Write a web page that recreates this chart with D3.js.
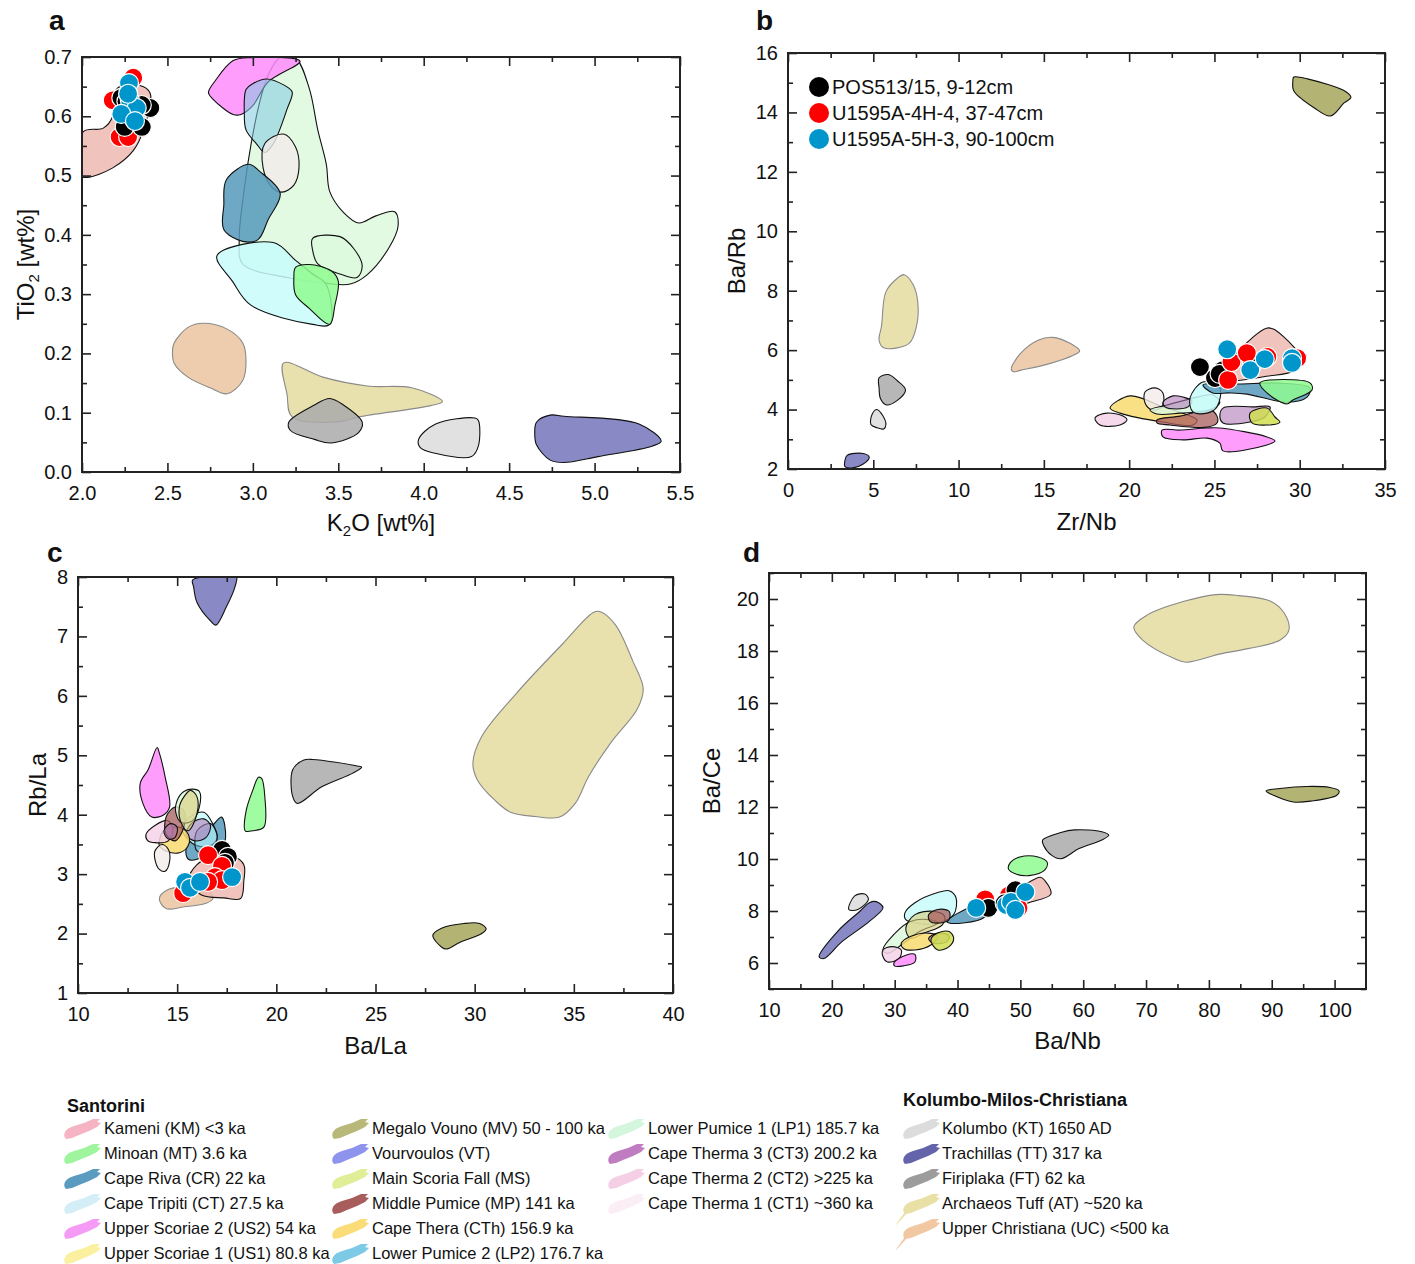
<!DOCTYPE html>
<html>
<head>
<meta charset="utf-8">
<script src="https://cdn.jsdelivr.net/npm/d3@7"></script>
<style>
  body { margin: 0; background: #fff; }
  text { font-family: "Liberation Sans", Arial, sans-serif; fill: #111; }
</style>
</head>
<body>
<svg id="fig" width="1415" height="1264"></svg>
<script>
// ---------- tick values ----------
var ticksAx = [2.0, 2.5, 3.0, 3.5, 4.0, 4.5, 5.0, 5.5];
var minorAx = [2.25, 2.75, 3.25, 3.75, 4.25, 4.75, 5.25];
var ticksAy = [0.0, 0.1, 0.2, 0.3, 0.4, 0.5, 0.6, 0.7];
var minorAy = [0.05, 0.15, 0.25, 0.35, 0.45, 0.55, 0.65];
var ticksBx = [0, 5, 10, 15, 20, 25, 30, 35];
var minorBx = [2.5, 7.5, 12.5, 17.5, 22.5, 27.5, 32.5];
var ticksBy = [2, 4, 6, 8, 10, 12, 14, 16];
var minorBy = [3, 5, 7, 9, 11, 13, 15];
var ticksCx = [10, 15, 20, 25, 30, 35, 40];
var minorCx = [12.5, 17.5, 22.5, 27.5, 32.5, 37.5];
var ticksCy = [1, 2, 3, 4, 5, 6, 7, 8];
var minorCy = [1.5, 2.5, 3.5, 4.5, 5.5, 6.5, 7.5];
var ticksDx = [10, 20, 30, 40, 50, 60, 70, 80, 90, 100];
var minorDx = [15, 25, 35, 45, 55, 65, 75, 85, 95];
var ticksDy = [6, 8, 10, 12, 14, 16, 18, 20];
var minorDy = [5, 7, 9, 11, 13, 15, 17, 19, 21];

// ---------- reference fields (unit code, outline points) ----------
var fieldsA = [
  ["LP1", [[3.159,0.699],[3.25,0.698],[3.33,0.647],[3.38,0.577],[3.43,0.519],[3.45,0.473],[3.53,0.438],[3.62,0.42],[3.72,0.432],[3.83,0.439],[3.85,0.415],[3.80,0.38],[3.67,0.333],[3.57,0.317],[3.41,0.319],[3.20,0.328],[2.94,0.351],[2.92,0.392],[2.95,0.478],[2.99,0.554],[3.04,0.624],[3.09,0.67]]],
  ["US2", [[2.74,0.64],[2.78,0.66],[2.885,0.694],[2.99,0.699],[3.276,0.693],[3.09,0.658],[3.0,0.618],[2.93,0.603],[2.885,0.603],[2.766,0.629]]],
  ["LP2", [[2.96,0.645],[3.0,0.655],[3.08,0.663],[3.18,0.653],[3.23,0.641],[3.20,0.612],[3.12,0.554],[3.07,0.539],[3.02,0.554],[2.96,0.577],[2.95,0.606]]],
  ["CT1", [[3.07,0.554],[3.18,0.570],[3.25,0.548],[3.27,0.513],[3.24,0.484],[3.17,0.472],[3.11,0.481],[3.06,0.513]]],
  ["CR",  [[2.845,0.493],[2.976,0.519],[3.04,0.507],[3.16,0.470],[3.09,0.426],[3.03,0.392],[2.94,0.389],[2.83,0.409],[2.83,0.45]]],
  ["CT",  [[2.79,0.365],[3.12,0.387],[3.25,0.357],[3.35,0.334],[3.43,0.316],[3.45,0.249],[3.35,0.249],[2.99,0.281],[2.88,0.322]]],
  ["LP1", [[3.35,0.394],[3.51,0.397],[3.59,0.377],[3.64,0.348],[3.61,0.328],[3.51,0.334],[3.38,0.351],[3.35,0.374]]],
  ["MT",  [[3.25,0.345],[3.33,0.35],[3.46,0.339],[3.50,0.322],[3.48,0.281],[3.45,0.249],[3.33,0.276],[3.25,0.299],[3.24,0.328]]],
  ["KM",  [[2.008,0.574],[2.125,0.580],[2.18,0.60],[2.19,0.64],[2.24,0.653],[2.36,0.65],[2.40,0.638],[2.36,0.577],[2.30,0.542],[2.18,0.513],[2.03,0.497],[1.99,0.50]]],
  ["UC",  [[2.54,0.218],[2.62,0.244],[2.71,0.251],[2.85,0.241],[2.94,0.218],[2.96,0.189],[2.94,0.154],[2.85,0.132],[2.75,0.142],[2.62,0.160],[2.54,0.183],[2.53,0.206]]],
  ["AT",  [[3.18,0.184],[3.41,0.160],[3.67,0.145],[3.93,0.142],[4.11,0.119],[4.04,0.112],[3.62,0.093],[3.51,0.085],[3.23,0.093],[3.20,0.131]]],
  ["FT",  [[3.21,0.084],[3.36,0.113],[3.45,0.124],[3.53,0.113],[3.64,0.084],[3.62,0.067],[3.46,0.049],[3.36,0.055],[3.22,0.070]]],
  ["KT",  [[3.97,0.055],[4.07,0.081],[4.30,0.091],[4.32,0.087],[4.32,0.044],[4.28,0.026],[4.06,0.032],[3.98,0.041]]],
  ["TT",  [[4.66,0.084],[4.74,0.096],[4.82,0.094],[5.26,0.081],[5.39,0.052],[5.34,0.044],[5.02,0.026],[4.82,0.016],[4.74,0.020],[4.66,0.046],[4.65,0.064]]]
];

var fieldsB = [
  ["MV",  [[29.6,15.07],[29.65,15.19],[30.45,15.13],[32.73,14.69],[33.0,14.5],[32.6,14.32],[31.8,13.88],[30.86,14.15],[29.65,14.73]]],
  ["AT",  [[5.34,6.34],[5.48,6.80],[5.74,7.96],[6.41,8.42],[6.81,8.54],[7.34,8.2],[7.61,7.61],[7.53,6.8],[7.08,6.22],[5.61,6.08]]],
  ["UC",  [[13.09,5.36],[13.62,5.88],[14.69,6.34],[15.5,6.43],[16.56,6.22],[17.1,5.97],[16.7,5.82],[15.23,5.53],[13.62,5.32],[13.22,5.27]]],
  ["FT",  [[5.34,5.07],[5.88,5.18],[6.41,4.97],[6.89,4.66],[6.41,4.31],[5.74,4.16],[5.42,4.37],[5.34,4.72]]],
  ["KT",  [[4.94,3.85],[5.21,4.0],[5.56,3.79],[5.74,3.5],[5.61,3.35],[5.21,3.39],[4.86,3.50]]],
  ["TT",  [[3.34,2.29],[3.47,2.46],[4.41,2.52],[4.76,2.40],[4.41,2.17],[3.74,2.03],[3.34,2.08]]],
  ["KM",  [[25.38,5.07],[26.45,5.99],[28.05,6.74],[28.45,6.71],[29.65,6.11],[30.19,5.64],[29.65,5.30],[28.05,5.12],[25.91,4.97]]],
  ["US2", [[21.93,3.31],[22.98,3.31],[24.56,3.38],[25.32,3.38],[28.08,3.08],[28.55,2.94],[28.08,2.81],[25.5,2.61],[25.32,2.87],[24.56,3.04],[23.16,2.98],[21.98,3.08]]],
  ["CTh", [[18.88,4.05],[20.05,4.46],[21.98,4.09],[23.98,3.65],[23.74,3.48],[21.98,3.58],[19.46,3.88]]],
  ["CT2", [[18.0,3.72],[18.7,3.88],[19.64,3.78],[19.87,3.65],[19.46,3.48],[18.29,3.48]]],
  ["CT1", [[20.93,4.59],[21.51,4.73],[21.98,4.56],[21.93,4.09],[21.34,3.99],[20.93,4.22]]],
  ["MP",  [[21.63,3.65],[22.98,3.78],[24.74,3.99],[25.15,3.78],[25.15,3.55],[24.56,3.41],[22.4,3.48],[21.63,3.55]]],
  ["CT3", [[25.5,4.05],[27.26,4.09],[28.26,4.09],[27.96,3.75],[27.09,3.58],[25.5,3.55],[25.32,3.75]]],
  ["MS",  [[27.09,3.88],[28.08,4.05],[28.55,3.75],[28.84,3.58],[28.08,3.48],[27.2,3.55]]],
  ["LP1", [[21.22,3.99],[22.2,4.15],[23.98,4.42],[24.91,4.49],[25.32,4.25],[24.74,3.99],[22.98,3.88],[21.63,3.85]]],
  ["CT3", [[21.98,4.25],[22.57,4.46],[23.16,4.42],[23.68,4.29],[23.45,4.09],[22.8,4.02],[22.1,4.09]]],
  ["CT",  [[23.57,4.39],[24.33,4.93],[25.3,4.76],[25.15,4.09],[24.56,3.88],[23.74,3.92]]],
  ["CR",  [[24.33,4.83],[26.5,4.86],[28.84,4.89],[30.6,4.73],[30.43,4.42],[29.25,4.25],[26.9,4.52],[25.9,4.56],[24.9,4.56]]],
  ["MT",  [[27.67,4.9],[30.6,4.9],[30.72,4.66],[29.6,4.32],[29.25,4.19],[28.08,4.56]]]
];

var fieldsC = [
  ["TT",  [[15.78,7.95],[16.9,8.02],[17.98,8.02],[17.91,7.83],[17.47,7.49],[16.95,7.19],[16.68,7.26],[16.0,7.57],[15.83,7.83]]],
  ["AT",  [[29.91,4.87],[30.36,5.32],[32.15,6.06],[34.39,6.86],[35.96,7.40],[36.3,7.42],[37.09,7.2],[37.98,6.58],[38.5,6.12],[38.2,5.78],[36.86,5.21],[35.74,4.64],[35.07,4.19],[34.28,3.96],[33.05,3.97],[31.82,4.04],[31.03,4.24],[30.13,4.59]]],
  ["FT",  [[20.83,4.76],[21.39,4.92],[21.84,4.93],[24.08,4.82],[24.3,4.80],[23.86,4.70],[22.29,4.47],[21.06,4.19],[20.83,4.30]]],
  ["MV",  [[27.89,1.97],[28.33,2.09],[29.46,2.17],[30.25,2.17],[30.58,2.08],[30.36,2.0],[29.24,1.85],[28.57,1.74],[28.34,1.77]]],
  ["MT",  [[18.48,4.07],[18.81,4.41],[19.1,4.63],[19.26,4.61],[19.42,4.30],[19.37,3.79],[18.81,3.73],[18.43,3.73]]],
  ["US2", [[13.14,4.53],[13.54,4.76],[13.99,5.13],[14.1,5.04],[14.39,4.64],[14.62,4.13],[14.33,4.0],[13.72,3.96],[13.27,4.19]]],
  ["UC",  [[14.1,2.59],[14.55,2.74],[15.56,2.79],[16.46,2.76],[16.8,2.59],[16.46,2.51],[15.34,2.45],[14.44,2.42]]],
  ["KM",  [[15.56,2.88],[16.0,3.16],[16.9,3.30],[17.8,3.30],[18.36,3.16],[18.36,2.88],[18.2,2.59],[17.35,2.60],[16.23,2.65]]],
  ["CR",  [[15.45,3.42],[16.0,3.67],[16.68,3.79],[17.24,3.96],[17.4,3.82],[17.35,3.50],[16.68,3.39],[16.0,3.25],[15.56,3.25]]],
  ["CT",  [[15.22,3.79],[15.78,3.99],[16.35,4.04],[16.79,3.85],[17.02,3.62],[16.68,3.48],[16.0,3.48],[15.45,3.62]]],
  ["LP2", [[16.0,3.73],[16.68,3.85],[17.02,3.62],[16.68,3.39],[16.0,3.39]]],
  ["CT3", [[15.45,3.67],[15.78,3.87],[16.35,3.93],[16.68,3.82],[16.46,3.62],[15.9,3.56]]],
  ["CTh", [[14.1,3.56],[14.33,3.73],[15.11,3.79],[15.56,3.67],[15.56,3.48],[15.11,3.36],[14.44,3.39],[14.1,3.48]]],
  ["CT1", [[13.88,3.39],[14.22,3.50],[14.55,3.42],[14.62,3.22],[14.39,3.05],[14.1,3.08],[13.88,3.25]]],
  ["CT2", [[13.43,3.67],[13.88,3.82],[14.55,3.90],[14.78,3.73],[14.55,3.56],[13.88,3.53],[13.5,3.57]]],
  ["MP",  [[14.44,3.96],[14.89,4.13],[15.34,4.07],[15.34,3.79],[14.89,3.56],[14.44,3.67]]],
  ["LP1", [[15.0,4.24],[15.34,4.39],[15.78,4.43],[16.12,4.39],[16.12,4.13],[15.78,3.90],[15.22,3.87],[14.93,4.04]]],
  ["US1", [[15.11,4.13],[15.34,4.30],[15.67,4.41],[16.0,4.30],[16.0,4.02],[15.56,3.73],[15.22,3.85]]],
  ["CT3", [[14.33,3.73],[14.66,3.85],[15.0,3.79],[14.89,3.62],[14.55,3.59]]]
];

var fieldsD = [
  ["AT",  [[68.05,18.93],[70.23,19.39],[76.04,19.91],[81.12,20.17],[84.75,20.13],[89.83,19.91],[92.0,19.45],[92.73,18.8],[91.28,18.41],[86.2,18.09],[81.84,17.89],[76.4,17.57],[74.59,17.70],[69.5,18.41]]],
  ["MV",  [[89.1,12.62],[91.28,12.71],[95.63,12.79],[99.26,12.75],[100.71,12.62],[100.35,12.45],[96.36,12.23],[93.45,12.19],[90.55,12.42]]],
  ["FT",  [[53.54,10.73],[56.44,11.02],[58.62,11.12],[62.97,11.05],[64.06,10.92],[62.97,10.73],[59.35,10.40],[56.44,10.01],[54.99,10.14],[53.68,10.53]]],
  ["MT",  [[48.46,9.88],[49.91,10.08],[52.81,10.08],[54.26,9.88],[53.9,9.58],[51.36,9.36],[49.19,9.43],[48.1,9.62]]],
  ["KM",  [[47.37,8.65],[49.91,8.91],[53.18,9.30],[53.9,9.17],[54.85,8.65],[51.36,8.32],[49.19,8.13],[47.37,8.32]]],
  ["KT",  [[22.7,8.06],[23.64,8.58],[25.24,8.65],[25.82,8.45],[24.15,8.06]]],
  ["TT",  [[17.98,6.24],[20.89,7.21],[24.51,8.0],[25.97,8.32],[27.05,8.36],[28.14,8.13],[25.97,7.6],[21.61,6.82],[18.71,6.17]]],
  ["CT",  [[31.63,7.93],[33.22,8.32],[36.85,8.71],[38.66,8.78],[39.75,8.52],[39.39,7.86],[36.85,7.54],[33.22,7.54],[31.77,7.67]]],
  ["CR",  [[38.3,7.6],[41.2,8.06],[44.1,8.32],[45.56,8.26],[44.1,7.73],[40.84,7.54],[38.66,7.54]]],
  ["LP1", [[28.14,6.5],[30.32,7.21],[32.5,7.6],[35.4,7.67],[36.85,7.54],[33.95,7.21],[31.05,6.69],[28.87,6.37]]],
  ["US1", [[31.77,7.34],[33.22,7.86],[36.12,7.99],[37.94,7.8],[37.58,7.47],[34.67,7.15],[32.5,6.95]]],
  ["MP",  [[35.4,7.86],[36.85,8.06],[38.66,7.99],[38.66,7.67],[37.21,7.54],[35.62,7.6]]],
  ["CTh", [[31.05,6.76],[32.5,7.02],[35.4,7.15],[36.85,7.02],[35.76,6.69],[33.22,6.50],[31.4,6.56]]],
  ["CT2", [[28.14,6.5],[29.59,6.63],[31.05,6.5],[30.68,6.17],[28.87,6.04],[28.14,6.24]]],
  ["US2", [[29.96,6.04],[31.77,6.3],[33.22,6.33],[33.22,6.04],[31.4,5.89],[29.96,5.89]]],
  ["CT3", [[35.4,6.95],[36.85,7.15],[38.66,7.05],[38.3,6.82],[36.12,6.76]]],
  ["MS",  [[35.76,6.89],[36.85,7.15],[38.66,7.21],[39.39,6.95],[38.66,6.63],[36.85,6.5]]]
];

// ---------- tephra samples ----------
var posA = [[2.23,0.631],[2.40,0.614],[2.35,0.619],[2.25,0.582],[2.35,0.582],[2.30,0.597],[2.26,0.625]];
var u4hA = [[2.30,0.665],[2.18,0.627],[2.22,0.565],[2.27,0.565],[2.25,0.61]];
var u5hA = [[2.275,0.656],[2.28,0.627],[2.32,0.614],[2.23,0.604],[2.31,0.592],[2.27,0.638]];

var posB = [[24.15,5.43],[25.03,5.06],[25.5,5.33],[27.2,5.5],[25.3,5.2]];
var u4hB = [[25.8,5.0],[26.0,5.6],[26.9,5.9],[28.1,5.77],[29.85,5.73]];
var u5hB = [[25.75,6.03],[27.1,5.33],[27.95,5.7],[29.55,5.73],[29.55,5.57]];

var posC = [[17.26,3.41],[17.56,3.29],[17.41,3.19]];
var u4hC = [[16.56,3.32],[17.26,3.14],[16.91,2.95],[17.26,2.90],[15.30,2.68],[16.56,2.87]];
var u5hC = [[15.40,2.87],[15.65,2.77],[16.15,2.87],[17.77,2.95]];

var posD = [[44.9,8.12],[49.2,8.8],[47.5,8.3]];
var u4hD = [[44.4,8.45],[49.7,8.12],[48.2,8.6]];
var u5hD = [[42.97,8.12],[47.75,8.23],[48.5,8.35],[49.2,8.04],[50.8,8.73]];

var sampleNames = ["POS513/15, 9-12cm", "U1595A-4H-4, 37-47cm", "U1595A-5H-3, 90-100cm"];

// ---------- legend entries ----------
var santoriniCol1 = [["KM","Kameni (KM) <3 ka"],["MT","Minoan (MT) 3.6 ka"],["CR","Cape Riva (CR) 22 ka"],["CT","Cape Tripiti (CT) 27.5 ka"],["US2","Upper Scoriae 2 (US2) 54 ka"],["US1","Upper Scoriae 1 (US1) 80.8 ka"]];
var santoriniCol2 = [["MV","Megalo Vouno (MV) 50 - 100 ka"],["VT","Vourvoulos (VT)"],["MS","Main Scoria Fall (MS)"],["MP","Middle Pumice (MP) 141 ka"],["CTh","Cape Thera (CTh) 156.9 ka"],["LP2","Lower Pumice 2 (LP2) 176.7 ka"]];
var santoriniCol3 = [["LP1","Lower Pumice 1 (LP1) 185.7 ka"],["CT3","Cape Therma 3 (CT3) 200.2 ka"],["CT2","Cape Therma 2 (CT2) >225 ka"],["CT1","Cape Therma 1 (CT1) ~360 ka"]];
var kmcCol = [["KT","Kolumbo (KT) 1650 AD"],["TT","Trachillas (TT) 317 ka"],["FT","Firiplaka (FT) 62 ka"],["AT","Archaeos Tuff (AT) ~520 ka"],["UC","Upper Christiana (UC) <500 ka"]];

// ---------- styles ----------
var fieldColor = {
  KM:"#efb8b2", MT:"#8ffc8f", CR:"#5599bb", CT:"#c8fcfc", US2:"#ff8cfc", US1:"#d8cc78",
  MV:"#a6a65c", VT:"#8f92ee", MS:"#d0de50", MP:"#a85c5c", CTh:"#f8da70", LP2:"#80c8e0",
  LP1:"#ddf9dd", CT3:"#b07ab8", CT2:"#f5d2e8", CT1:"#f2ebea", KT:"#dcdcdc", TT:"#7474bc",
  FT:"#aaaaaa", AT:"#e4dca0", UC:"#ebc4a0"
};
var fieldOpacity = { LP2:0.55, CT3:0.6, US1:0.6, MP:0.75, CT1:0.8 };
var fieldStroke = { AT:"#8a8a8a", UC:"#8a8a8a" };
var legendColor = {
  KM:"#f5b3c3", MT:"#9ef59e", CR:"#5b9bbf", CT:"#d3eef6", US2:"#f59af5", US1:"#fbf0a0",
  MV:"#b8b878", VT:"#8e93ee", MS:"#e0ee98", MP:"#a85c5c", CTh:"#fadd78", LP2:"#7ccae6",
  LP1:"#d4f6dc", CT3:"#c07cc0", CT2:"#f5cfe5", CT1:"#fbeef4", KT:"#dcdcdc", TT:"#6464aa",
  FT:"#9c9c9c", AT:"#e8e0a4", UC:"#f2c8a2"
};
var sampleColor = { pos:"#000000", u4h:"#ff0000", u5h:"#0096cc" };

var svg = d3.select("#fig");
var outline = d3.line().curve(d3.curveCatmullRomClosed.alpha(0.5));

function drawPanel(p) {
  var x = d3.scaleLinear().domain(p.xDom).range(p.xRange);
  var y = d3.scaleLinear().domain(p.yDom).range(p.yRange);
  var g = svg.append("g");

  g.append("clipPath").attr("id", "clip" + p.id)
    .append("rect")
    .attr("x", p.xRange[0]).attr("y", p.yRange[1])
    .attr("width", p.xRange[1] - p.xRange[0]).attr("height", p.yRange[0] - p.yRange[1]);

  var inner = g.append("g").attr("clip-path", "url(#clip" + p.id + ")");

  inner.selectAll("path.field")
    .data(p.fields)
    .enter().append("path")
    .attr("class", "field")
    .attr("d", d => outline(d[1].map(q => [x(q[0]), y(q[1])])))
    .attr("fill", d => fieldColor[d[0]])
    .attr("fill-opacity", d => fieldOpacity[d[0]] || 0.85)
    .attr("stroke", d => fieldStroke[d[0]] || "#111")
    .attr("stroke-width", 1.1)
    .attr("stroke-linejoin", "round");

  p.order.forEach(function(key) {
    inner.selectAll("circle." + key)
      .data(p.samples[key])
      .enter().append("circle")
      .attr("class", key)
      .attr("cx", d => x(d[0]))
      .attr("cy", d => y(d[1]))
      .attr("r", 9.5)
      .attr("fill", sampleColor[key])
      .attr("stroke", "#fff")
      .attr("stroke-width", 1.2);
  });

  // axes with inward ticks on all sides
  var h = p.yRange[0], top = p.yRange[1], l = p.xRange[0], r = p.xRange[1];
  function ax(gen, tr, vals, size, fmt, pad) {
    var a = g.append("g").attr("transform", tr)
      .call(gen.tickValues(vals).tickSize(size).tickPadding(pad || 9).tickFormat(fmt));
    a.select(".domain").remove();
    a.selectAll("line").attr("stroke", "#222").attr("stroke-width", 1.6);
    a.selectAll("text").style("font-size", "20px").attr("fill", "#111")
      .style("font-family", "'Liberation Sans', Arial, sans-serif");
    return a;
  }
  ax(d3.axisBottom(x), `translate(0,${h})`, p.xt, -9, p.xf, 14);
  ax(d3.axisBottom(x), `translate(0,${h})`, p.xm, -5, "");
  ax(d3.axisTop(x), `translate(0,${top})`, p.xt, -9, "");
  ax(d3.axisTop(x), `translate(0,${top})`, p.xm, -5, "");
  ax(d3.axisLeft(y), `translate(${l},0)`, p.yt, -9, p.yf, 10);
  ax(d3.axisLeft(y), `translate(${l},0)`, p.ym, -5, "");
  ax(d3.axisRight(y), `translate(${r},0)`, p.yt, -9, "");
  ax(d3.axisRight(y), `translate(${r},0)`, p.ym, -5, "");

  g.append("rect")
    .attr("x", l).attr("y", top).attr("width", r - l).attr("height", h - top)
    .attr("fill", "none").attr("stroke", "#222").attr("stroke-width", 2);

  g.append("text").attr("x", p.letter[0]).attr("y", p.letter[1])
    .style("font-size", "28px").style("font-weight", "bold").text(p.id);

  var xt = g.append("text").attr("x", (l + r) / 2).attr("y", p.xTitleY)
    .attr("text-anchor", "middle").style("font-size", "24px");
  p.xTitle.forEach(function(s) {
    xt.append("tspan").attr("dy", s[1]).style("font-size", s[2] || "24px").text(s[0]);
  });
  var yt = g.append("text")
    .attr("transform", `translate(${p.yTitleX},${(h + top) / 2}) rotate(-90)`)
    .attr("text-anchor", "middle").style("font-size", "24px");
  p.yTitle.forEach(function(s) {
    yt.append("tspan").attr("dy", s[1]).style("font-size", s[2] || "24px").text(s[0]);
  });
  return { x: x, y: y, g: g };
}

var f1 = d3.format(".1f"), f0 = d3.format("d");

drawPanel({ id:"a", xDom:[2,5.5], yDom:[0,0.7], xRange:[82,680], yRange:[472,57],
  fields: fieldsA, samples:{pos:posA,u4h:u4hA,u5h:u5hA}, order:["u4h","pos","u5h"],
  xt:ticksAx, xm:minorAx, yt:ticksAy, ym:minorAy, xf:f1, yf:f1,
  letter:[49,30], xTitleY:531, yTitleX:34,
  xTitle:[["K",0],["2",5,"15px"],["O [wt%]",-5]], yTitle:[["TiO",0],["2",5,"15px"],[" [wt%]",-5]] });

drawPanel({ id:"b", xDom:[0,35], yDom:[2,16], xRange:[788,1385], yRange:[469,53],
  fields: fieldsB, samples:{pos:posB,u4h:u4hB,u5h:u5hB}, order:["pos","u4h","u5h"],
  xt:ticksBx, xm:minorBx, yt:ticksBy, ym:minorBy, xf:f0, yf:f0,
  letter:[756,30], xTitleY:530, yTitleX:745,
  xTitle:[["Zr/Nb",0]], yTitle:[["Ba/Rb",0]] });

drawPanel({ id:"c", xDom:[10,40], yDom:[1,8], xRange:[78,673], yRange:[993,577],
  fields: fieldsC, samples:{pos:posC,u4h:u4hC,u5h:u5hC}, order:["pos","u4h","u5h"],
  xt:ticksCx, xm:minorCx, yt:ticksCy, ym:minorCy, xf:f0, yf:f0,
  letter:[47,562], xTitleY:1054, yTitleX:46,
  xTitle:[["Ba/La",0]], yTitle:[["Rb/La",0]] });

drawPanel({ id:"d", xDom:[10,105], yDom:[5,21], xRange:[769,1366], yRange:[989,573],
  fields: fieldsD, samples:{pos:posD,u4h:u4hD,u5h:u5hD}, order:["u4h","pos","u5h"],
  xt:ticksDx, xm:minorDx, yt:ticksDy, ym:minorDy, xf:f0, yf:f0,
  letter:[743,562], xTitleY:1049, yTitleX:720,
  xTitle:[["Ba/Nb",0]], yTitle:[["Ba/Ce",0]] });

// sample legend inside panel b
var sl = svg.append("g");
["pos","u4h","u5h"].forEach(function(k, i) {
  var cy = 87 + i * 26;
  sl.append("circle").attr("cx", 819).attr("cy", cy).attr("r", 10).attr("fill", sampleColor[k]);
  sl.append("text").attr("x", 832).attr("y", cy + 7).style("font-size", "20px").text(sampleNames[i]);
});

// bottom legend (brush-stroke swatches)
var brush = "M1,4 Q3,0 10,-2 L20,-5 L29,-9 L36,-9 L33,-6 L37,-5 L33,-1 L25,3 L15,7 L8,10 L2,11 Q-1,8 1,4 Z";
var tail = "M6,8 L-6,21 L-8,23 L-4,17 L2,9 Z";
var lg = svg.append("g");
lg.append("text").attr("x", 67).attr("y", 1112).style("font-size", "18px").style("font-weight", "bold").text("Santorini");
lg.append("text").attr("x", 903).attr("y", 1106).style("font-size", "18px").style("font-weight", "bold").text("Kolumbo-Milos-Christiana");

function legendColumn(items, sx, tx) {
  items.forEach(function(d, i) {
    var cy = 1128 + i * 25;
    lg.append("path").attr("d", brush).attr("transform", `translate(${sx},${cy})`)
      .attr("fill", legendColor[d[0]]);
    if (d[0] === "AT" || d[0] === "UC") {
      lg.append("path").attr("d", tail).attr("transform", `translate(${sx},${cy})`)
        .attr("fill", legendColor[d[0]]);
    }
    lg.append("text").attr("x", tx).attr("y", cy + 6).style("font-size", "16.5px").text(d[1]);
  });
}
legendColumn(santoriniCol1, 64, 104);
legendColumn(santoriniCol2, 332, 372);
legendColumn(santoriniCol3, 608, 648);
legendColumn(kmcCol, 903, 942);
</script>
</body>
</html>
